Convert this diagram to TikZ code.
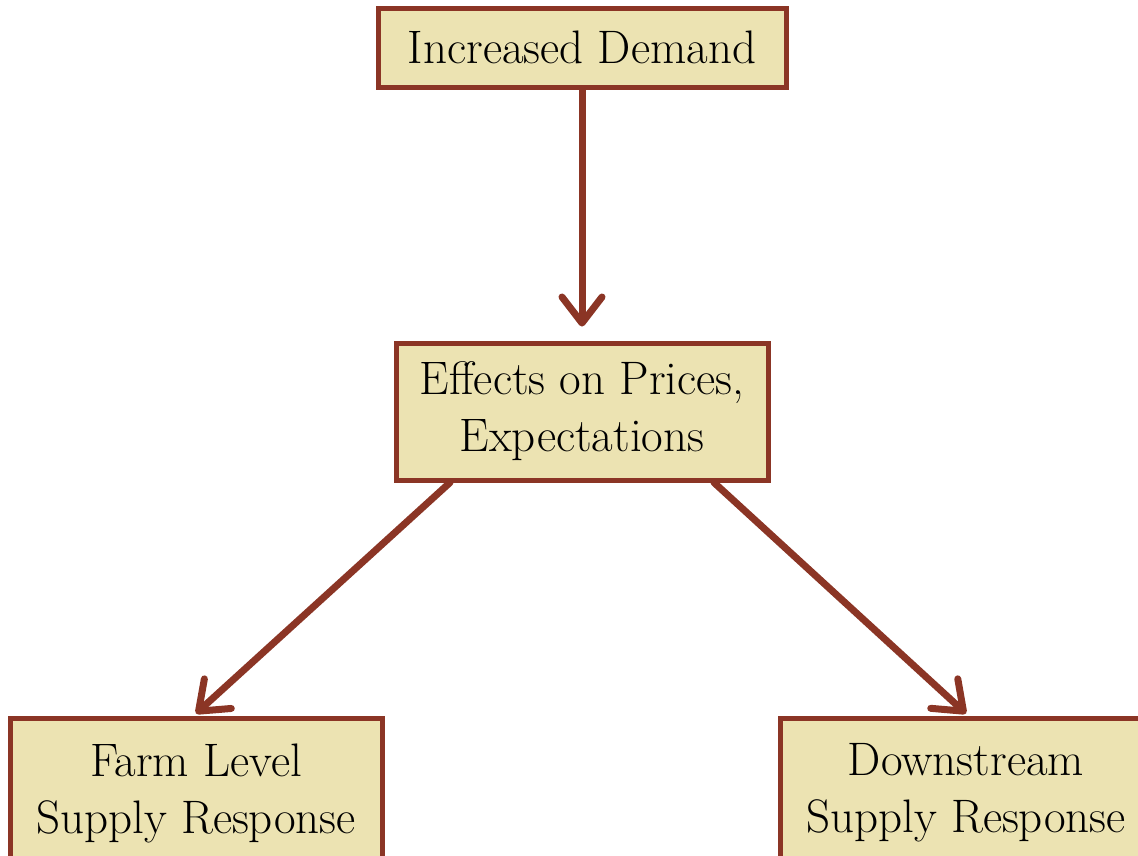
\documentclass[tikz,border=0pt]{standalone}
\usetikzlibrary{arrows.meta,calc}
\definecolor{edge}{HTML}{8B3525}
\definecolor{boxfill}{HTML}{ECE3B2}
\begin{document}
\begin{tikzpicture}[x=1pt,y=-1pt,
  flowbox/.style={draw=edge,fill=boxfill,line width=5pt,align=center,inner sep=0pt,
    font=\fontsize{47}{57}\selectfont},
  flowarrow/.style={draw=edge,line width=7pt,line cap=round,
    -{Straight Barb[length=26pt,width=40pt,line cap=round,line join=round]}}]
\useasboundingbox (0,0) rectangle (1138,855);
\clip (0,0) rectangle (1138,855);
\node[flowbox,minimum width=408pt,minimum height=79pt] (top) at (582,47.5) {Increased Demand};
\node[flowbox,minimum width=372pt,minimum height=137pt] (mid) at (582,411.5) {Effects on Prices,\\Expectations};
\node[flowbox,minimum width=372pt,minimum height=150pt] (bl) at (196,793) {Farm Level\\Supply Response};
\node[flowbox,minimum width=372pt,minimum height=150pt] (br) at (966,793) {Downstream\\Supply Response};
\coordinate (midtop) at ($(mid.north)+(0,-14)$);
\draw[flowarrow] (top.south) -- (midtop);
\draw[flowarrow] ($(mid.south west)!0.15!(mid.south east)$) -- ($(bl.north)+(0,-2)$);
\draw[flowarrow] ($(mid.south west)!0.85!(mid.south east)$) -- ($(br.north)+(0,-2)$);
\end{tikzpicture}
\end{document}
